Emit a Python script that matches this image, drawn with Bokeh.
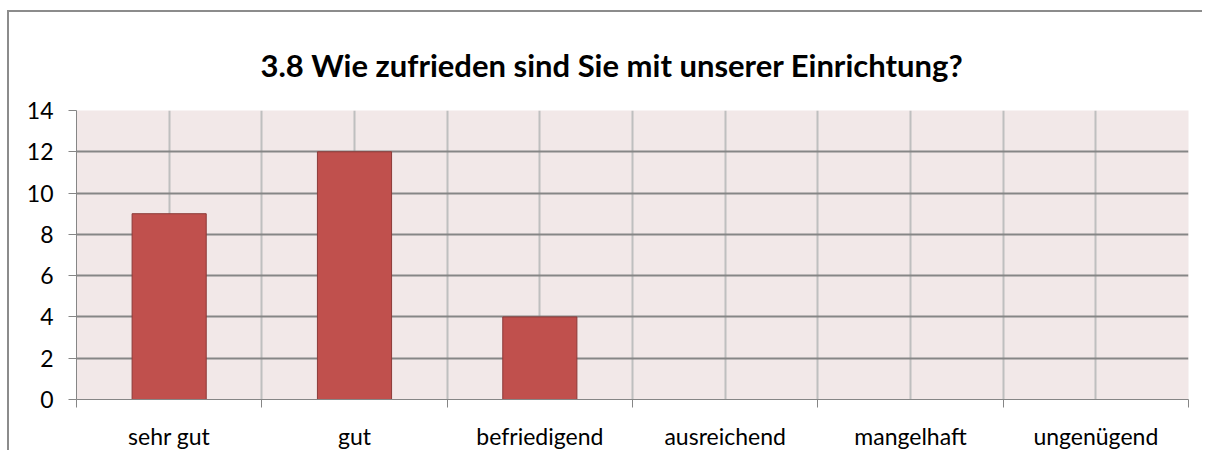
from bokeh.plotting import figure
from bokeh.models import FixedTicker, Range1d
from bokeh.embed import file_html
from bokeh.resources import INLINE

categories = ["sehr gut", "gut", "befriedigend", "ausreichend", "mangelhaft", "ungenügend"]
counts = [9, 12, 4, 0, 0, 0]
y_ticks = [0, 2, 4, 6, 8, 10, 12, 14]
title_text = "3.8 Wie zufrieden sind Sie mit unserer Einrichtung?"

n = len(categories)
centers = [i + 0.5 for i in range(n)]
bounds = list(range(n + 1))
halfs = [i * 0.5 for i in range(2 * n + 1)]

FONT = "Lato"
AX = "#868686"

p = figure(width=1195, height=440, output_backend="svg", toolbar_location=None,
           x_range=Range1d(0, n), y_range=Range1d(0, 14),
           min_border_left=67, min_border_right=16, min_border_top=98, min_border_bottom=50,
           background_fill_color="#F2E8E8", border_fill_color="white")
p.outline_line_color = None

p.title.text = title_text
p.title.align = "left"
p.title.text_font = FONT
p.title.text_font_size = "31px"
p.title.text_font_style = "bold"
p.title.text_color = "black"
p.title.offset = 184
p.title.standoff = 53

p.vbar(x=centers, top=counts, width=0.4, bottom=0,
       fill_color="#C0504D", line_color="#8C3A38", line_width=1)

# x axis
p.xaxis.ticker = FixedTicker(ticks=centers, minor_ticks=bounds)
p.xaxis.major_label_overrides = {c: lab for c, lab in zip(centers, categories)}
p.xaxis.major_tick_out = 0
p.xaxis.major_tick_in = 0
p.xaxis.minor_tick_out = 8
p.xaxis.minor_tick_in = 0
p.xaxis.minor_tick_line_color = AX
p.xaxis.axis_line_color = AX
p.xaxis.major_label_text_font = FONT
p.xaxis.major_label_text_font_size = "23px"
p.xaxis.major_label_text_color = "black"
p.xaxis.major_label_standoff = 14

# y axis
p.yaxis.ticker = FixedTicker(ticks=y_ticks, minor_ticks=[])
p.yaxis.major_tick_out = 8
p.yaxis.major_tick_in = 0
p.yaxis.major_tick_line_color = AX
p.yaxis.axis_line_color = AX
p.yaxis.major_label_text_font = FONT
p.yaxis.major_label_text_font_size = "23px"
p.yaxis.major_label_text_color = "black"
p.yaxis.major_label_standoff = 15

# grids
p.xgrid.ticker = FixedTicker(ticks=halfs, minor_ticks=[])
p.xgrid.grid_line_color = "#BFBFBF"
p.xgrid.grid_line_width = 2
p.ygrid.ticker = FixedTicker(ticks=y_ticks, minor_ticks=[])
p.ygrid.grid_line_color = AX
p.ygrid.grid_line_width = 2
p.ygrid.level = "underlay"
p.xgrid.level = "underlay"

p.styles = {"border-top": "2px solid #8C8C8C", "border-left": "2px solid #8C8C8C",
            "margin-left": "7px", "margin-top": "10px"}

open("out.html", "w").write(file_html(p, INLINE))
